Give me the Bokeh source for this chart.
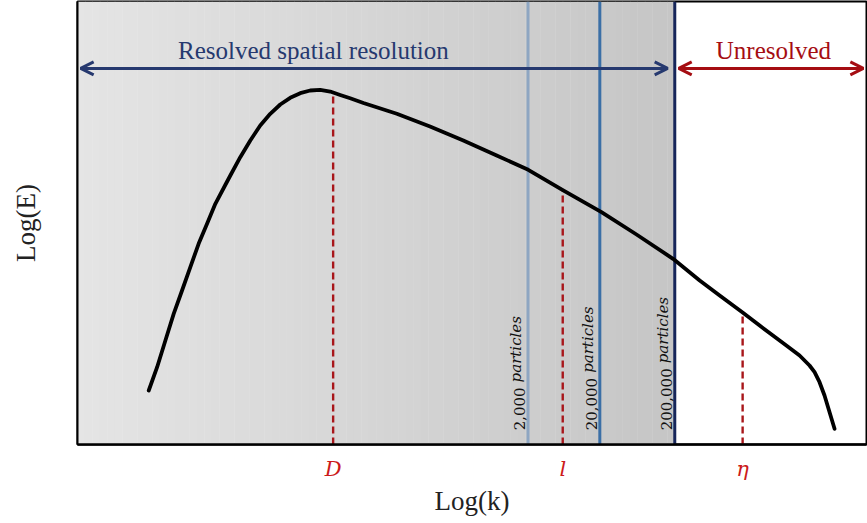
import numpy as np
from bokeh.plotting import figure
from bokeh.models import Arrow, OpenHead, FixedTicker, Label
from bokeh.core.properties import value
from bokeh.embed import file_html
from bokeh.resources import INLINE

# ---- data (log k, log E in arbitrary units 0..10) ----
log_k = [0.903, 1.009, 1.114, 1.219, 1.325, 1.430, 1.535, 1.642, 1.747, 1.873,
         1.937, 2.063, 2.190, 2.316, 2.443, 2.570, 2.696, 2.823, 2.949, 3.076,
         3.203, 3.329, 3.456, 3.624, 4.047, 4.468, 4.890, 5.313, 5.713, 6.156,
         6.641, 7.085, 7.548, 7.886, 8.139, 8.430, 8.646, 8.814, 8.984, 9.152,
         9.278, 9.342, 9.405, 9.468, 9.532, 9.595]
log_E = [1.219, 1.745, 2.348, 2.950, 3.476, 4.002, 4.531, 4.982, 5.433, 5.858,
         6.072, 6.485, 6.862, 7.201, 7.465, 7.675, 7.826, 7.930, 7.991, 8.007,
         7.968, 7.890, 7.815, 7.710, 7.465, 7.178, 6.862, 6.524, 6.201, 5.734,
         5.244, 4.740, 4.192, 3.702, 3.363, 2.980, 2.686, 2.460, 2.235, 2.009,
         1.783, 1.632, 1.406, 1.106, 0.729, 0.354]

scale_names = ["D", "l", "\u03b7"]
scale_k = [3.24, 6.15, 8.43]
scale_E = [7.95, 5.73, 2.98]

res_counts = ["2,000", "20,000", "200,000"]
res_k = [5.71, 6.62, 7.57]
res_colors = ["#8ea6c2", "#3b6fa6", "#16265a"]

resolved_limit = 7.57

p = figure(width=867, height=523, x_range=(0, 10), y_range=(0, 10),
           output_backend="svg", toolbar_location=None,
           min_border_left=77, min_border_right=1, min_border_top=1, min_border_bottom=79)
p.grid.visible = False
p.background_fill_color = "white"
p.outline_line_color = "black"
p.outline_line_width = 2

# gradient background of resolved region
n = 80
edges = np.linspace(0, resolved_limit, n + 1)
c0, c1 = np.array([229, 229, 229]), np.array([198, 198, 198])
cols = []
for i in range(n):
    t = i / (n - 1)
    c = (c0 + (c1 - c0) * t).astype(int)
    cols.append("#%02x%02x%02x" % tuple(c))
p.quad(left=edges[:-1], right=edges[1:] + 0.005, bottom=0, top=10, fill_color=cols, line_color=None)

# resolution lines
for kx, col in zip(res_k, res_colors):
    p.segment(x0=[kx], y0=[0], x1=[kx], y1=[10], line_color=col, line_width=3)

# dashed scale lines
p.segment(x0=scale_k, y0=[0] * 3, x1=scale_k, y1=scale_E, line_color="#a8161a",
          line_width=2.4, line_dash="7 4")

# spectrum curve
p.line(log_k, log_E, line_color="black", line_width=3.8, line_join="round", line_cap="round")

# particle labels (rotated)
fs = 15
y0 = 0.32
ppu = 443 / 10.0
for cnt, kx in zip(res_counts, res_k):
    nd = sum(ch.isdigit() for ch in cnt)
    nc = cnt.count(",")
    wpx = (nd * 0.636 + nc * 0.318) * fs + 5
    xx = kx - 0.04
    p.text(x=[xx], y=[y0], text=[cnt], angle=np.pi / 2, text_align="left",
           text_baseline="bottom", text_font=value("DejaVu Serif"),
           text_font_size="%dpx" % fs, text_color="#111111")
    p.text(x=[xx], y=[y0 + wpx / ppu], text=["particles"], angle=np.pi / 2, text_align="left",
           text_baseline="bottom", text_font=value("DejaVu Serif"), text_font_style="italic",
           text_font_size="%dpx" % fs, text_color="#111111")

# arrows
blue = "#26396f"
red = "#a50d12"
arrow_y = 8.49
p.add_layout(Arrow(start=OpenHead(size=13, line_color=blue, line_width=3),
                   end=OpenHead(size=13, line_color=blue, line_width=3),
                   x_start=0.04, y_start=arrow_y, x_end=7.48, y_end=arrow_y,
                   line_color=blue, line_width=3))
p.add_layout(Arrow(start=OpenHead(size=13, line_color=red, line_width=3),
                   end=OpenHead(size=13, line_color=red, line_width=3),
                   x_start=7.62, y_start=arrow_y, x_end=9.96, y_end=arrow_y,
                   line_color=red, line_width=3))
p.add_layout(Label(x=2.99, y=arrow_y, y_offset=18, text="Resolved spatial resolution", text_align="center",
                   text_baseline="alphabetic", text_font="Liberation Serif",
                   text_font_size="25px", text_color=blue))
p.add_layout(Label(x=8.82, y=arrow_y, y_offset=18, text="Unresolved", text_align="center",
                   text_baseline="alphabetic", text_font="Liberation Serif",
                   text_font_size="25px", text_color=red))

# axes
p.xaxis.ticker = FixedTicker(ticks=scale_k)
p.xaxis.major_label_overrides = {k: s for k, s in zip(scale_k, scale_names)}
p.xaxis.major_label_text_font = "DejaVu Serif"
p.xaxis.major_label_text_font_style = "italic"
p.xaxis.major_label_text_font_size = "21px"
p.xaxis.major_label_text_color = "#cc1a1a"
p.xaxis.major_label_standoff = 12
p.xaxis.major_tick_in = 0
p.xaxis.major_tick_out = 0
p.xaxis.minor_tick_in = 0
p.xaxis.minor_tick_out = 0
p.xaxis.axis_line_width = 2.5
p.xaxis.axis_line_color = "black"
p.xaxis.axis_label = "Log(k)"
p.xaxis.axis_label_standoff = 2
p.xaxis.axis_label_text_font = "Liberation Serif"
p.xaxis.axis_label_text_font_style = "normal"
p.xaxis.axis_label_text_font_size = "27px"
p.xaxis.axis_label_text_color = "#222222"

p.yaxis.ticker = FixedTicker(ticks=[])
p.yaxis.major_tick_in = 0
p.yaxis.major_tick_out = 0
p.yaxis.minor_tick_in = 0
p.yaxis.minor_tick_out = 0
p.yaxis.axis_line_width = 2
p.yaxis.axis_line_color = "black"
p.yaxis.axis_label = "Log(E)"
p.yaxis.axis_label_standoff = 37
p.yaxis.axis_label_text_font = "Liberation Serif"
p.yaxis.axis_label_text_font_style = "normal"
p.yaxis.axis_label_text_font_size = "27px"
p.yaxis.axis_label_text_color = "#222222"

open("out.html", "w").write(file_html(p, INLINE))
